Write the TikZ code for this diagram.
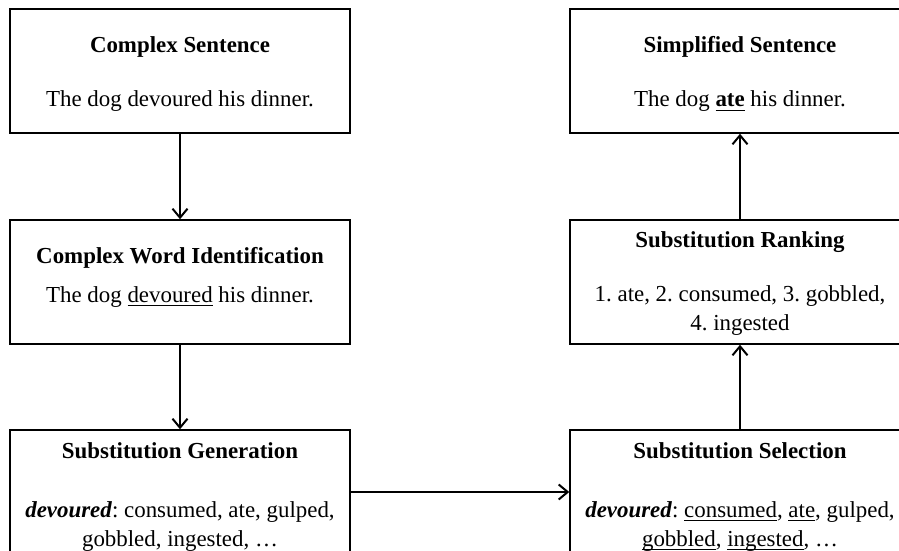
\documentclass[tikz,border=0pt]{standalone}
\usepackage{fontspec}
\setmainfont{Liberation Serif}
\usetikzlibrary{arrows.meta,positioning}
\frenchspacing
\newcommand{\ulword}[2][0.6pt]{\setbox0\hbox{#2}\rlap{\rule[-2.2pt]{\wd0}{#1}}\box0{}}
\newcommand{\twolines}[2]{\begin{tabular}[t]{@{}c@{}}#1\\#2\end{tabular}}
\tikzset{
  stagebox/.style={
    draw=black,
    line width=0.75pt,
    minimum width=170pt,
    minimum height=62pt,
    inner sep=0pt
  },
  headtext/.style={
    font=\fontsize{11.45pt}{14.5pt}\selectfont\bfseries,
    anchor=base,
    inner sep=0pt
  },
  bodytext/.style={
    font=\fontsize{11.45pt}{14.5pt}\selectfont,
    anchor=base,
    inner sep=0pt
  },
  flowarrow/.style={
    -{Straight Barb[length=4.5pt,width=7.5pt]},
    line width=1pt
  }
}

\begin{document}
\begin{tikzpicture}[x=0.5pt,y=-0.5pt]
  \useasboundingbox (0,0) rectangle (899,551);
  \clip (0,0) rectangle (899,551);

  % left column
  \node[stagebox] (complex) at (180,71) {};
  \node[headtext] (complex-title) at (180,53) {Complex Sentence};
  \node[bodytext] (complex-text) at (180,107) {The dog devoured his dinner.};

  \node[stagebox] (cwi) at (180,282) {};
  \node[headtext] (cwi-title) at (180,263) {Complex Word Identification};
  \node[bodytext] (cwi-text) at (180,302) {The dog \ulword{devoured} his dinner.};

  \node[stagebox] (generation) at (180,492) {};
  \node[headtext] (generation-title) at (180,458) {Substitution Generation};
  \node[bodytext] (generation-text) at (180,517)
    {\twolines{\textbf{\textit{devoured}}: consumed, ate, gulped,}{gobbled, ingested, …}};

  % right column
  \node[stagebox] (simplified) at (740,71) {};
  \node[headtext] (simplified-title) at (740,53) {Simplified Sentence};
  \node[bodytext] (simplified-text) at (740,107) {The dog \ulword[0.9pt]{\textbf{ate}} his dinner.};

  \node[stagebox] (ranking) at (740,282) {};
  \node[headtext] (ranking-title) at (740,247) {Substitution Ranking};
  \node[bodytext] (ranking-text) at (740,301)
    {\twolines{1. ate, 2. consumed, 3. gobbled,}{4. ingested}};

  \node[stagebox] (selection) at (740,492) {};
  \node[headtext] (selection-title) at (740,458) {Substitution Selection};
  \node[bodytext] (selection-text) at (740,517)
    {\twolines{\textbf{\textit{devoured}}: \ulword{consumed}, \ulword{ate}, gulped,}{\ulword{gobbled}, \ulword{ingested}, …}};

  \draw[flowarrow] (complex.south) -- (cwi.north);
  \draw[flowarrow] (cwi.south) -- (generation.north);
  \draw[flowarrow] (generation.east) -- (selection.west);
  \draw[flowarrow] (selection.north) -- (ranking.south);
  \draw[flowarrow] (ranking.north) -- (simplified.south);
\end{tikzpicture}
\end{document}
